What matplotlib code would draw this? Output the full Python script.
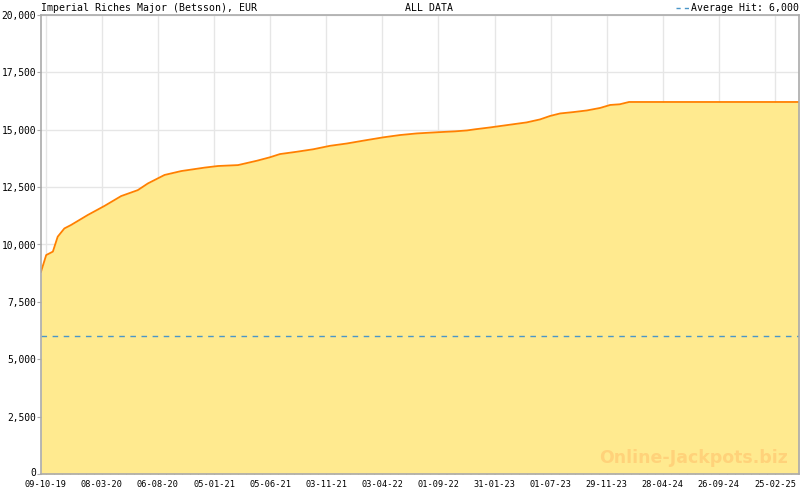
import matplotlib
matplotlib.use("Agg")
import matplotlib.pyplot as plt
import matplotlib.dates as mdates
from matplotlib.ticker import FixedLocator, FuncFormatter
from matplotlib.transforms import ScaledTranslation
import numpy as np
import datetime as dt

title = "Imperial Riches Major (Betsson), EUR"
subtitle = "ALL DATA"
avg_label = "Average Hit: 6,000"
average_hit = 6000

dates = ["2019-09-26", "2019-10-10", "2019-10-28", "2019-11-10", "2019-11-28", "2019-12-16",
         "2020-01-30", "2020-03-15", "2020-04-29", "2020-06-13", "2020-07-10", "2020-08-24",
         "2020-10-08", "2020-12-10", "2021-01-15", "2021-03-10", "2021-04-30", "2021-06-04",
         "2021-07-01", "2021-08-15", "2021-09-29", "2021-11-13", "2021-12-28", "2022-02-20",
         "2022-04-06", "2022-05-21", "2022-07-05", "2022-08-28", "2022-10-16", "2022-11-17",
         "2022-12-09", "2023-01-18", "2023-03-04", "2023-03-31", "2023-04-27", "2023-06-02",
         "2023-06-29", "2023-07-26", "2023-08-31", "2023-10-06", "2023-11-11", "2023-12-08",
         "2024-01-03", "2024-01-28", "2025-04-30"]
values = [8810, 9540, 9690, 10340, 10700, 10850,
          11285, 11680, 12110, 12370, 12660, 13030,
          13200, 13350, 13420, 13460, 13650, 13800,
          13940, 14040, 14150, 14300, 14400, 14550,
          14670, 14770, 14840, 14890, 14930, 14970,
          15020, 15100, 15200, 15260, 15320, 15450,
          15600, 15710, 15770, 15840, 15950, 16080,
          16110, 16210, 16210]

tick_labels = ["09-10-19", "08-03-20", "06-08-20", "05-01-21", "05-06-21", "03-11-21",
               "03-04-22", "01-09-22", "31-01-23", "01-07-23", "29-11-23", "28-04-24",
               "26-09-24", "25-02-25"]

x = [dt.datetime.strptime(d, "%Y-%m-%d") for d in dates]
xn = mdates.date2num(x)

W, H = 800, 490
fig = plt.figure(figsize=(8, 4.9), dpi=100)
L, R, T, B = 41, 799, 15, 474
ax = fig.add_axes([L / W, 1 - B / H, (R - L) / W, (B - T) / H])

fill_c = "#ffea8f"
line_c = "#ff8000"
ax.fill_between(xn, values, 0, color=fill_c, lw=0, zorder=2)
ax.plot(xn, values, color=line_c, lw=1.3, zorder=3)
ax.axhline(average_hit, color="#4a96c8", lw=1, ls=(0, (4, 4)), zorder=4)

major_dates = [dt.datetime.strptime(s, "%d-%m-%y") for s in tick_labels]
major = mdates.date2num(major_dates)
minor = []
for m in major:
    for k in range(-7, 8):
        minor.append(m + k * 151 / 7)
ax.xaxis.set_major_locator(FixedLocator(major))
ax.xaxis.set_minor_locator(FixedLocator(sorted(set(np.round(minor, 4)))))
ax.set_xticklabels(tick_labels)

ax.set_xlim(xn[0], xn[-1])
ax.set_ylim(0, 20000)
ax.set_yticks(np.arange(0, 20001, 2500))
ax.yaxis.set_major_formatter(FuncFormatter(lambda v, p: f"{int(v):,}"))

ax.grid(True, which="major", color="#e6e6e6", lw=1, zorder=0)
ax.set_axisbelow(True)
for s in ax.spines.values():
    s.set_color("#aaaaaa")
    s.set_linewidth(1.2)
    s.set_zorder(5)

mono = "DejaVu Sans Mono"
ax.tick_params(axis="x", which="major", direction="in", length=6, color="#9a9aaa",
               labelsize=6.2, pad=4)
ax.tick_params(axis="x", which="minor", direction="in", length=3, color="#9a9aaa")
ax.tick_params(axis="y", which="major", direction="out", length=3, color="#aaaaaa",
               labelsize=6.9, pad=0.5)
for lab in ax.get_xticklabels() + ax.get_yticklabels():
    lab.set_family(mono)
# nudge the "0" label up slightly, as in the reference
ylabs = ax.get_yticklabels()
ylabs[0].set_transform(ylabs[0].get_transform() + ScaledTranslation(0, 2 / 100, fig.dpi_scale_trans))

fig.text(L / W, 1 - 8 / H, title, family=mono, fontsize=7.1, va="center", ha="left")
fig.text(429 / W, 1 - 8 / H, subtitle, family=mono, fontsize=7.1, va="center", ha="center")
fig.text(R / W, 1 - 8 / H, avg_label, family=mono, fontsize=7.1, va="center", ha="right")
fig.add_artist(plt.Line2D([676 / W, 690 / W], [1 - 8 / H, 1 - 8 / H], color="#4a96c8",
                          lw=1, ls=(0, (3, 3)), transform=fig.transFigure))

ax.text(0.985, 0.015, "Online-Jackpots.biz", transform=ax.transAxes, ha="right",
        va="bottom", fontsize=12.5, fontweight="bold", color="#ffd27a",
        family="DejaVu Sans", zorder=6)

fig.savefig("out.png", dpi=100)
